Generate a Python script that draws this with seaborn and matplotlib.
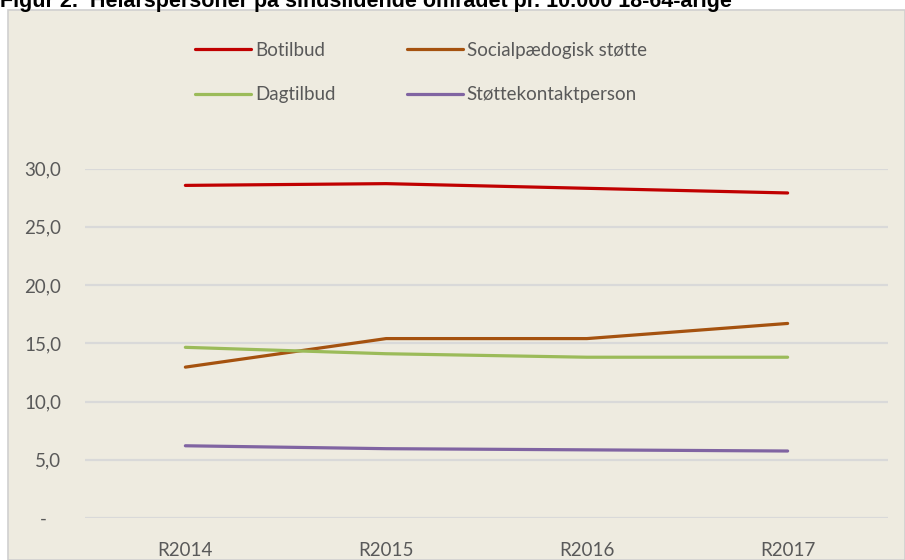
import pandas as pd
import matplotlib.pyplot as plt
import seaborn as sns
from matplotlib.patches import Rectangle

# Data
years = ["R2014", "R2015", "R2016", "R2017"]
botilbud = [28.55, 28.7, 28.3, 27.9]
socialpaedagogisk = [12.95, 15.4, 15.4, 16.7]
dagtilbud = [14.65, 14.1, 13.8, 13.8]
stottekontakt = [6.2, 5.95, 5.85, 5.75]

series_names = ["Botilbud", "Socialpædogisk støtte", "Dagtilbud", "Støttekontaktperson"]
colors = ["#C00000", "#A5520F", "#9BBB59", "#8064A2"]
ticks = [0, 5, 10, 15, 20, 25, 30]
tick_labels = ["-   ", "5,0", "10,0", "15,0", "20,0", "25,0", "30,0"]

df = pd.DataFrame({
    "year": years * 4,
    "value": botilbud + socialpaedagogisk + dagtilbud + stottekontakt,
    "series": [n for n in series_names for _ in years],
})

sns.set_style("white")
plt.rcParams["font.family"] = ["Lato", "DejaVu Sans"]

bg = "#EEEBE0"
W, H = 905, 560
fig = plt.figure(figsize=(W / 100, H / 100), dpi=100)
fig.patch.set_facecolor("white")

# Chart area background
fig.patches.append(Rectangle((8 / W, 0), 1 - 8 / W, 1 - 10 / H, transform=fig.transFigure,
                             facecolor=bg, edgecolor="#D0D0D0", linewidth=1.2, zorder=-5))

ax = fig.add_axes([85 / W, 1 - 518 / H, (888 - 85) / W, (518 - 168.5) / H])
ax.set_zorder(2)
ax.patch.set_alpha(0)

sns.lineplot(data=df, x="year", y="value", hue="series", hue_order=series_names,
             palette=colors, linewidth=2.3, sort=False, ax=ax, legend=False)

ax.set_xlim(-0.5, 3.5)
ax.set_ylim(0, 30)
ax.set_yticks(ticks)
ax.set_yticklabels(tick_labels)
ax.yaxis.grid(True, color="#D9D9D9", linewidth=1.6)
ax.xaxis.grid(False)
ax.set_axisbelow(True)
for s in ax.spines.values():
    s.set_visible(False)
ax.tick_params(axis="y", length=0, pad=17, labelsize=13.5, labelcolor="#595959")
ax.tick_params(axis="x", length=0, pad=17, labelsize=13.5, labelcolor="#595959")
ax.set_xlabel("")
ax.set_ylabel("")

# Legend above the plot (column-major order -> rows Botilbud/Socialp., Dagtilbud/Støtte.)
order = [0, 2, 1, 3]
handles = [plt.Line2D([], [], color=colors[i], linewidth=2.3) for i in order]
fig.legend(handles, [series_names[i] for i in order], ncol=2, loc="upper left",
           bbox_to_anchor=(178 / W, 1 - 25 / H), frameon=False,
           fontsize=13.5, labelcolor="#595959", handlelength=3.0,
           handletextpad=0.2, columnspacing=3.8, labelspacing=1.45)

# Title, clipped at the top edge as in the reference
fig.text(0.0, 1 - 7 / H, "Figur 2.  Helårspersoner på sindslidende området pr. 10.000 18-64-årige",
         fontsize=15.5, fontweight="bold", family=["Liberation Sans", "DejaVu Sans"],
         va="baseline", ha="left", color="black")

fig.savefig("out.png", dpi=100)
